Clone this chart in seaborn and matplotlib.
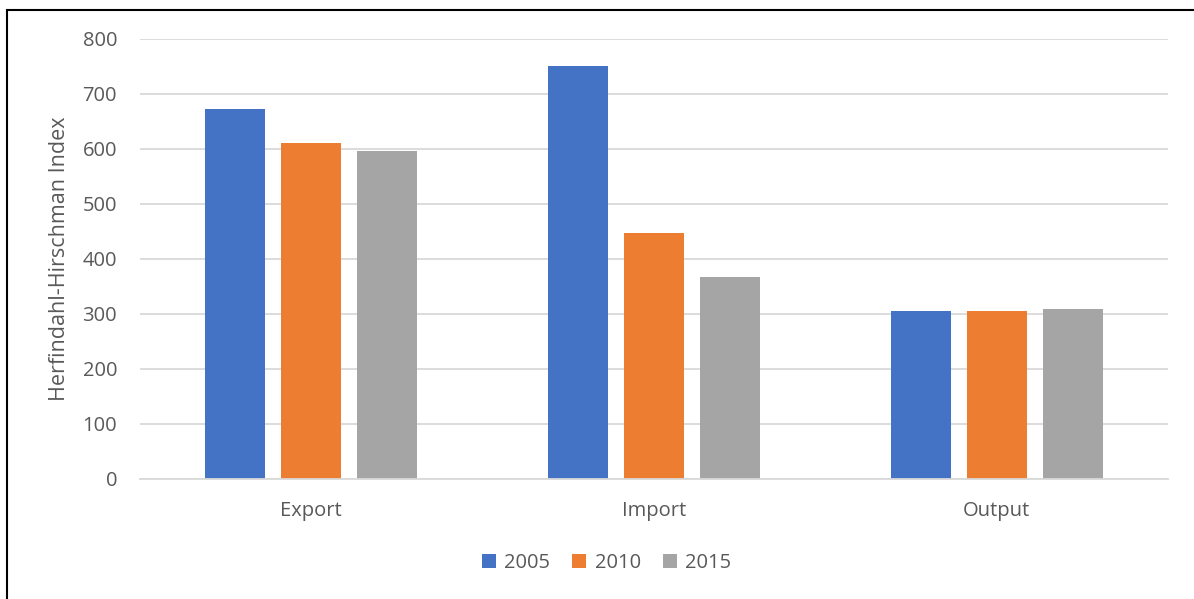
import matplotlib
matplotlib.use("Agg")
import matplotlib.pyplot as plt
import seaborn as sns
import pandas as pd
from matplotlib.patches import Rectangle, Patch

categories = ["Export", "Import", "Output"]
years = ["2005", "2010", "2015"]
values_2005 = [672, 751, 305]
values_2010 = [610, 447, 305]
values_2015 = [596, 366, 308]
colors = ["#4472C4", "#ED7D31", "#A5A5A5"]

rows = []
for yr, vals in zip(years, [values_2005, values_2010, values_2015]):
    for c, v in zip(categories, vals):
        rows.append({"cat": c, "year": yr, "value": v})
df = pd.DataFrame(rows)

sns.set_theme(style="white")
plt.rcParams['font.family'] = ['Open Sans', 'DejaVu Sans']

fig = plt.figure(figsize=(11.94, 5.99), dpi=100)
ax = fig.add_axes([140/1194, 1-478.5/599, (1168-140)/1194, (478.5-39)/599])

sns.barplot(data=df, x="cat", y="value", hue="year", palette=colors,
            width=0.665, gap=0.21, ax=ax, legend=False, saturation=1,
            errorbar=None, edgecolor="none")

ax.set_ylim(0, 800)
ax.set_yticks(range(0, 801, 100))
ax.yaxis.grid(True, color="#D9D9D9", linewidth=1.3)
ax.set_axisbelow(True)
for s in ["top", "right", "left"]:
    ax.spines[s].set_visible(False)
ax.spines["bottom"].set_color("#D9D9D9")
ax.spines["bottom"].set_linewidth(1.3)
ax.tick_params(axis="both", length=0, labelsize=14.5, labelcolor="#595959")
ax.tick_params(axis="y", pad=16.5)
ax.tick_params(axis="x", pad=16)
ax.set_xlabel("")
ax.set_ylabel("Herfindahl-Hirschman Index", fontsize=15.5, color="#595959", labelpad=9)

handles = [Patch(facecolor=c, edgecolor="none") for c in colors]
fig.legend(handles, years, loc="center", bbox_to_anchor=(0.508, 1-563/599),
           ncol=3, frameon=False, fontsize=14.5, handlelength=0.7, handleheight=0.7,
           handletextpad=0.4, columnspacing=1.1, labelcolor="#595959")

fig.patches.append(Rectangle((7/1194, -0.1), 1.2, 1-10/599+0.1, transform=fig.transFigure,
                             fill=False, edgecolor="black", linewidth=1.5))

fig.savefig("out.png", dpi=100)
